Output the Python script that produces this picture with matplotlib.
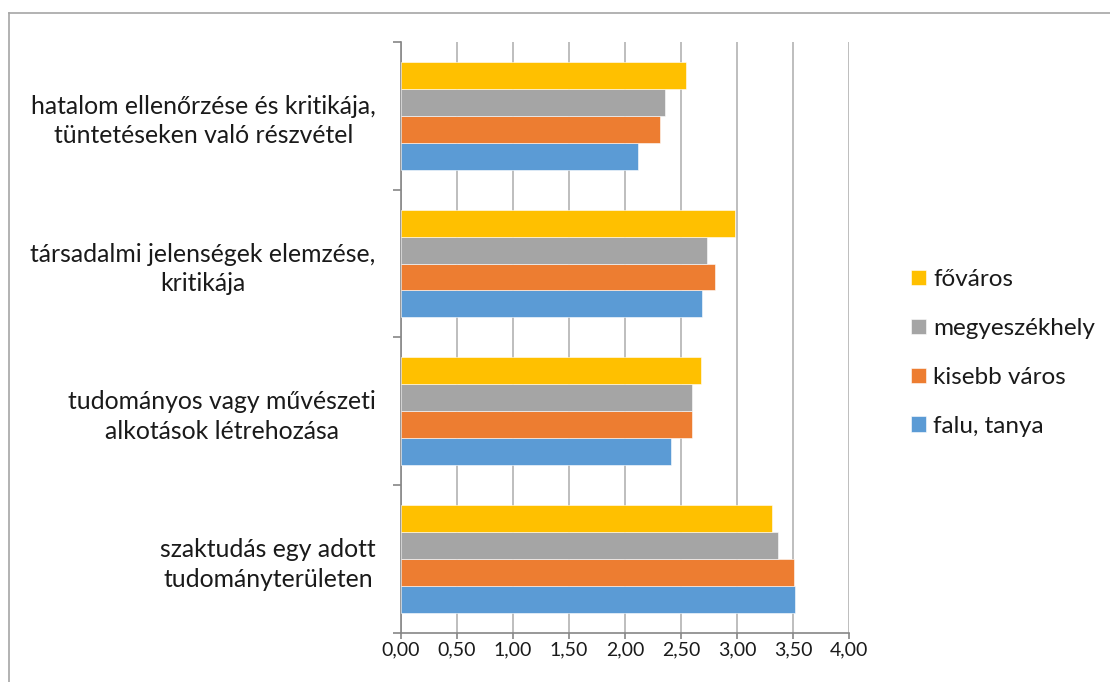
import matplotlib
matplotlib.use("Agg")
import matplotlib.pyplot as plt
from matplotlib.lines import Line2D
from matplotlib.ticker import FixedLocator, FuncFormatter
import numpy as np

plt.rcParams['font.family'] = ['Lato', 'DejaVu Sans']

categories = [
    "szaktudás egy adott\ntudományterületen",
    "tudományos vagy művészeti\nalkotások létrehozása",
    "társadalmi jelenségek elemzése,\nkritikája",
    "hatalom ellenőrzése és kritikája,\ntüntetéseken való részvétel",
]
series_names = ["falu, tanya", "kisebb város", "megyeszékhely", "főváros"]
falu = [3.52, 2.41, 2.69, 2.12]
kisebb = [3.51, 2.60, 2.80, 2.31]
megye = [3.37, 2.60, 2.73, 2.36]
fovaros = [3.31, 2.68, 2.98, 2.55]
values = [falu, kisebb, megye, fovaros]
colors = ["#5B9BD5", "#ED7D31", "#A5A5A5", "#FFC000"]
x_ticks = [0, 0.5, 1.0, 1.5, 2.0, 2.5, 3.0, 3.5, 4.0]

fig = plt.figure(figsize=(11.1, 6.82), dpi=100)
ax = fig.add_axes([400.7/1110, 1-632.7/682, (849-400.7)/1110, (632.7-42)/682])

n = len(series_names)
bh = 0.182
y = np.arange(len(categories))
for i, (name, vals, c) in enumerate(zip(series_names, values, colors)):
    ax.barh(y + (i - (n-1)/2)*bh, vals, height=bh, color=c, label=name, zorder=3,
            edgecolor='white', linewidth=0.4)

ax.set_xlim(0, 4)
ax.set_ylim(-0.5, len(categories)-0.5)
ax.xaxis.set_major_locator(FixedLocator(x_ticks))
ax.xaxis.set_major_formatter(FuncFormatter(lambda v, p: f"{v:.2f}".replace('.', ',')))
ax.grid(axis='x', color='#b3b3b3', linewidth=1.2, zorder=0)
ax.set_axisbelow(True)

ax.set_yticks(y)
ax.set_yticklabels(categories, ha='right', multialignment='center', fontsize=17.8,
                   color='#1a1a1a', linespacing=1.35)
ax.set_yticks(np.arange(-0.5, len(categories), 1), minor=True)
ax.tick_params(axis='y', which='major', length=0, pad=18)
ax.tick_params(axis='y', which='minor', length=6, color='#868686', width=1.2, direction='out')
ax.tick_params(axis='x', length=4.5, color='#868686', width=1.2, direction='out', labelsize=14,
               pad=1.5, labelcolor='#1a1a1a')

for s in ['top', 'right']:
    ax.spines[s].set_visible(False)
ax.spines['left'].set_color('#868686')
ax.spines['left'].set_linewidth(1.2)
ax.spines['bottom'].set_color('#868686')
ax.spines['bottom'].set_linewidth(1.2)

handles, labels = ax.get_legend_handles_labels()
leg = fig.legend(handles[::-1], labels[::-1], loc='center left',
                 bbox_to_anchor=(911/1110, 1-353/682), frameon=False, borderpad=0,
                 borderaxespad=0,
                 fontsize=17.5, handlelength=0.62, handleheight=0.62,
                 handletextpad=0.3, labelspacing=1.15)
for t in leg.get_texts():
    t.set_color('#1a1a1a')

# chart border (top and left visible)
fig.add_artist(Line2D([9/1110, 1], [1-13/682, 1-13/682], transform=fig.transFigure,
                      color='#a6a6a6', linewidth=1.2))
fig.add_artist(Line2D([9/1110, 9/1110], [0, 1-13/682], transform=fig.transFigure,
                      color='#a6a6a6', linewidth=1.2))

fig.savefig("out.png", dpi=100, facecolor='white')
